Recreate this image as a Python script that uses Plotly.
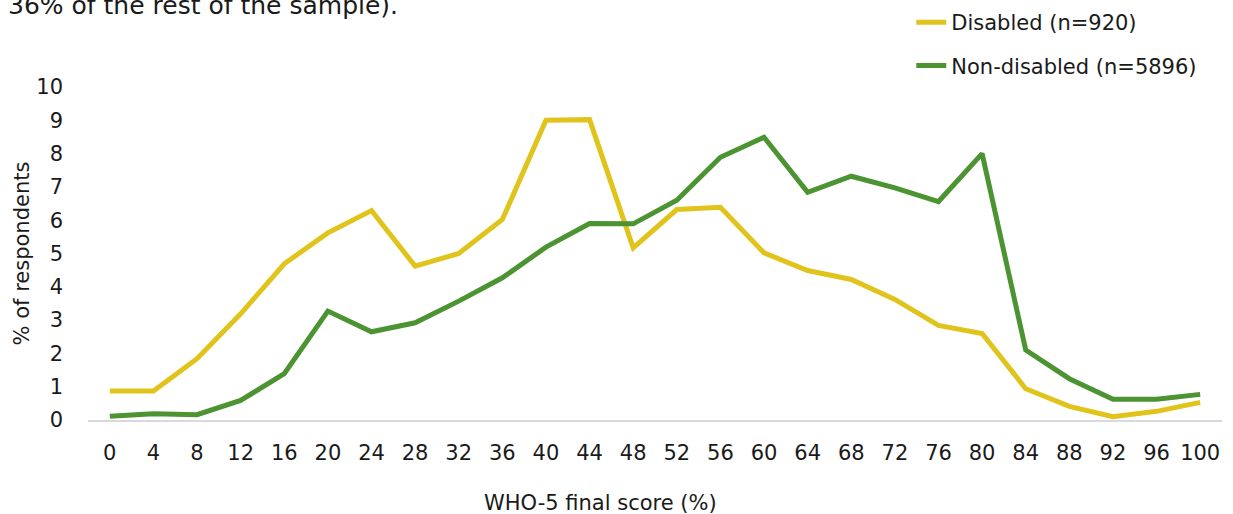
import plotly.graph_objects as go

scores = [0, 4, 8, 12, 16, 20, 24, 28, 32, 36, 40, 44, 48, 52, 56, 60, 64, 68, 72, 76, 80, 84, 88, 92, 96, 100]
disabled = [0.87, 0.87, 1.84, 3.19, 4.69, 5.62, 6.29, 4.62, 5.0, 6.02, 9.0, 9.02, 5.17, 6.32, 6.39, 5.02,
            4.49, 4.22, 3.62, 2.84, 2.60, 0.94, 0.41, 0.10, 0.26, 0.53]
non_disabled = [0.11, 0.19, 0.16, 0.59, 1.39, 3.27, 2.65, 2.92, 3.57, 4.27, 5.19, 5.90, 5.89, 6.60, 7.89, 8.49,
                6.84, 7.32, 6.97, 6.56, 8.0, 2.10, 1.24, 0.62, 0.62, 0.77]
y_ticks = list(range(0, 11))

FONT = "DejaVu Sans"
TXT = "#1a1a1a"
FS = 21

fig = go.Figure()
fig.add_trace(go.Scatter(x=scores, y=disabled, mode="lines", name="Disabled (n=920)",
                         line=dict(color="#E0C41C", width=5), legendgroup="a"))
fig.add_trace(go.Scatter(x=scores, y=non_disabled, mode="lines", name="Non-disabled (n=5896)",
                         line=dict(color="#4C9332", width=5), legendgroup="b"))

fig.update_layout(
    width=1233, height=514,
    margin=dict(l=88, r=11, t=87, b=94, autoexpand=False),
    paper_bgcolor="white", plot_bgcolor="white",
    font=dict(family=FONT, size=FS, color=TXT),
    showlegend=True,
    legend=dict(x=0.726, y=1.255, xanchor="left", yanchor="top", bgcolor="rgba(0,0,0,0)",
                tracegroupgap=13, font=dict(size=FS), itemwidth=30),
    xaxis=dict(range=[-2, 102], tickvals=scores, ticktext=[str(s) for s in scores],
               showgrid=False, zeroline=False, showline=True, linecolor="#D9D9D9", linewidth=2,
               ticks="", ticklabelstandoff=13),
    yaxis=dict(range=[0, 10], tickvals=y_ticks, showgrid=False, zeroline=False, showline=False,
               ticks="", ticklabelstandoff=24,
               title=dict(text="% of respondents", standoff=0, font=dict(size=FS))),
    annotations=[
        dict(text="36% of the rest of the sample).", xref="paper", yref="paper",
             x=-0.072, y=1.245, xanchor="left", yanchor="middle", showarrow=False,
             font=dict(size=25, color=TXT)),
        dict(text="WHO-5 final score (%)", xref="paper", yref="paper",
             x=0.4515, y=-0.249, xanchor="center", yanchor="middle", showarrow=False,
             font=dict(size=FS, color=TXT)),
    ],
)

fig.write_html("out.html", post_script="document.body.style.margin='0';",
               config={"displayModeBar": False})
